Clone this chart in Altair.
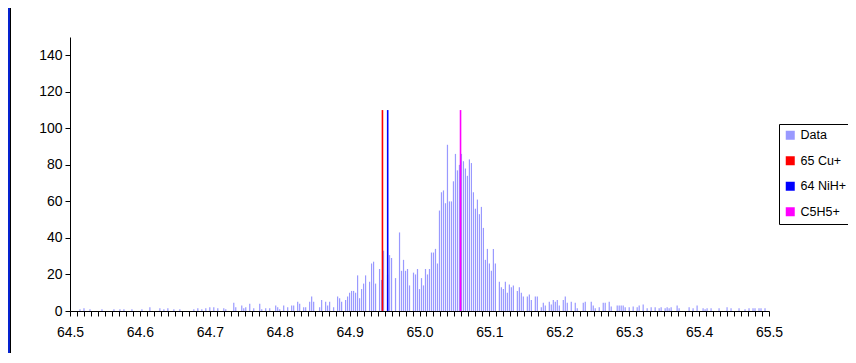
import altair as alt
import pandas as pd

# Spectrum intensities, 35 bins per 0.1 mass unit
seg_645 = [0,0,0,0,0,1,0,1.5,0,0, 1,0,0,0,0,0,1,0,0,0, 0,0,1,0,0,1,0,1,0,0, 0,1,0,0,0]
seg_646 = [0,1,0,0,0,2,0,0,0,0, 1.5,0,1,0,1.5,0,0,1,0,0, 1,0,0,0,0,0,0,1,0,1.5, 0,1,0,1.5,0]
seg_647 = [2,0,2,0,1.5,0,0,1.5,1,0, 0,0,4.5,2,0,0,3,1.5,2,0, 4,0,1.5,0,0,4,1,0,1.5,0, 1.5,0,0,3,2]
seg_648 = [1,0,3,0,2,0,3,3,0,5, 4,0,2,2,0,5,8,5,0,0, 2,6,0,5,3,5,0,2,0,8, 7,5,0,6,8]
seg_649 = [10,11,11,10,19.5,7,12,15,19.5,0, 16,26,27,15,0,23,17,33,0,20, 30.6,29,0,18,0,43,22,28,22,23, 14,0,21,20,23]
seg_650 = [12,18,14,23,20,23,32,32,34,26, 55,65,66,59,91,60,60,71,86,77, 80,86,82,78,74,83,81,65,56,61, 53,57,45.5,28,34]
seg_651 = [26,22,34,26,0,16,13,12,16,10, 14.5,13,14,0,11,13,10,8,0,8, 9,6,0,8,8,0,2,4.5,3,0, 5,3.5,6,5,6]
seg_652 = [3,0,6,8,4.5,0,5,0,4.5,1.5, 0,0,4.5,5,0,0,5,3,1.5,0, 2,0,4.5,4.5,0,5,2.5,0,0,3, 3,3,3,2,0]
seg_653 = [2,0,2.5,0,2,3,0,3.5,0,1.5, 0,2,0,2,0,1.5,2,0,1.5,2, 1.5,2,0,0,3,1.5,0,0,0,0, 2,0,1.5,0,3]
seg_654 = [0,0,1.5,1,1.5,0,1.5,0,0,0, 1.5,0,0,0,2,0,1.5,0,0,0, 1.5,0,0,1,0,1.5,0,1.5,1.5,0, 1.5,1.5,0,1.5,0]

mass_start = 64.5
bins_per_tenth = 35

ref_names = ["65 Cu+", "64 NiH+", "C5H5+"]
ref_mass = [64.947, 64.9545, 65.0587]
ref_height = [110, 110, 110]

series_names = ["Data", "65 Cu+", "64 NiH+", "C5H5+"]
series_colors = ["#9999FF", "#FF0000", "#0000FF", "#FF00FF"]

y_ticks = [0, 20, 40, 60, 80, 100, 120, 140]
x_ticks = [round(64.5 + i * 0.01, 2) for i in range(101)]

heights = (seg_645 + seg_646 + seg_647 + seg_648 + seg_649 +
           seg_650 + seg_651 + seg_652 + seg_653 + seg_654)
step = 0.1 / bins_per_tenth
rows = [{"mass": round(mass_start + i * step, 5), "count": h, "series": "Data"}
        for i, h in enumerate(heights) if h > 0]
df = pd.DataFrame(rows)
ref = pd.DataFrame({"mass": ref_mass, "count": ref_height, "series": ref_names})

FONT = "Liberation Sans"

x_enc = alt.X("mass:Q",
              scale=alt.Scale(domain=[64.5, 65.5], nice=False, zero=False, padding=0),
              axis=alt.Axis(values=x_ticks, title=None, grid=False,
                            labelExpr="abs(datum.value*10 - round(datum.value*10)) < 0.001 ? format(datum.value, '.1f') : ''",
                            labelOverlap=False, labelFlush=False,
                            tickSize=5, labelPadding=9, labelFontSize=14,
                            labelColor="#000000", tickColor="#000000",
                            domainColor="#000000", labelFont=FONT))
y_enc = alt.Y("count:Q",
              scale=alt.Scale(domain=[0, 150], nice=False),
              axis=alt.Axis(values=y_ticks, title=None, grid=False,
                            tickSize=5, labelPadding=3, labelFontSize=14,
                            labelColor="#000000", tickColor="#000000",
                            domainColor="#000000", labelFont=FONT))
color_enc = alt.Color("series:N",
                      scale=alt.Scale(domain=series_names, range=series_colors),
                      legend=alt.Legend(title=None, orient="none",
                                        legendX=709, legendY=87,
                                        symbolType="square", symbolSize=81,
                                        symbolStrokeWidth=0, labelFontSize=12.5,
                                        labelFont=FONT, labelColor="#000000",
                                        labelOffset=4, rowPadding=12.5,
                                        padding=5, strokeColor="#000000",
                                        fillColor="#FFFFFF"))

bars = alt.Chart(df).mark_bar(size=1.2).encode(x=x_enc, y=y_enc, color=color_enc)
lines = alt.Chart(ref).mark_bar(size=1.6).encode(x=x_enc, y=y_enc, color=color_enc)

frame_df = pd.DataFrame({"a": [0]})
blue_strip = alt.Chart(frame_df).mark_rect(color="#0522CF").encode(
    x=alt.value(-62), x2=alt.value(-60), y=alt.value(-29), y2=alt.value(316))
black_edge = alt.Chart(frame_df).mark_rect(color="#000000").encode(
    x=alt.value(-60), x2=alt.value(-59), y=alt.value(-29), y2=alt.value(316))

chart = alt.layer(blue_strip, black_edge, bars, lines).properties(
    width=699, height=274,
    autosize=alt.AutoSizeParams(type="none"),
    padding={"left": 62, "top": 29, "right": 79, "bottom": 42},
    background="#FFFFFF",
).configure_view(stroke=None)

chart.save("out.html", embed_options={"renderer": "svg", "actions": False})
